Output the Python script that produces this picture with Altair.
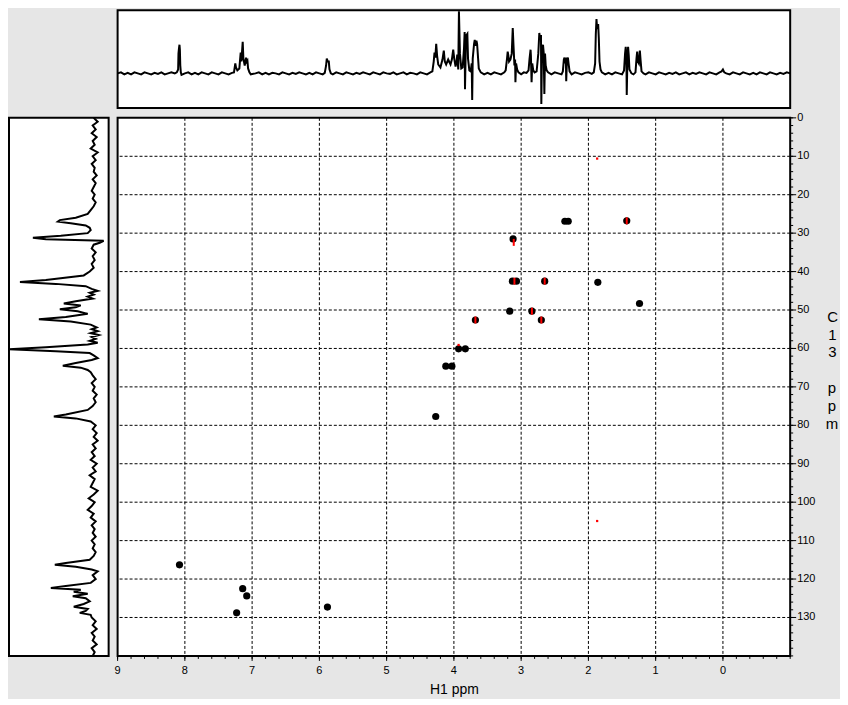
import altair as alt
import pandas as pd

FONT = "Liberation Sans Narrow, Liberation Sans, Arial"

# ---- 1D 1H projection (top): (ppm, intensity in panel px above baseline)
h1_trace = [
    (9.00, 0), (8.95, 1), (8.90, -1), (8.85, 0.5), (8.80, -1), (8.75, 1), (8.70, 0), (8.65, -1),
    (8.60, 1), (8.55, 0), (8.50, -1), (8.45, 0.5), (8.40, -0.5), (8.35, 1), (8.30, -1), (8.25, 0),
    (8.20, 1), (8.15, 0), (8.12, 1), (8.10, 4), (8.095, 20), (8.088, 25), (8.08, 29), (8.074, 24),
    (8.068, 8), (8.06, 1), (8.05, -1.5), (8.00, 0), (7.95, 1), (7.90, -1), (7.85, 0.5), (7.80, -1),
    (7.75, 1), (7.70, 0), (7.65, -1), (7.60, 1), (7.55, 0), (7.50, -1), (7.45, 1), (7.40, 0),
    (7.35, -1), (7.30, 0.5), (7.27, 1), (7.25, 10), (7.24, 6), (7.22, 3), (7.19, 5), (7.17, 21),
    (7.16, 12), (7.14, 32), (7.13, 15), (7.11, 8), (7.09, 16), (7.08, 12), (7.07, 13), (7.06, 5),
    (7.04, 1), (7.02, -1), (6.95, 0), (6.90, 1), (6.85, -1), (6.80, 0.5), (6.75, -1), (6.70, 0.5),
    (6.65, 0), (6.60, -1), (6.55, 1), (6.50, 0), (6.45, -1), (6.40, 0.5), (6.35, -0.5), (6.30, 1),
    (6.25, 0), (6.20, -1), (6.15, 0.5), (6.10, -1), (6.05, 1), (6.00, 0), (5.95, -1), (5.92, 0.5),
    (5.90, 8), (5.89, 15), (5.875, 12), (5.86, 12), (5.85, 4), (5.83, 0), (5.80, -1), (5.75, 1),
    (5.70, 0), (5.65, -1), (5.60, 1), (5.55, 0), (5.50, -1), (5.45, 0.5), (5.40, -0.5), (5.35, 1),
    (5.30, 0), (5.25, -1), (5.20, 1), (5.15, 0), (5.10, -1), (5.05, 1), (5.00, 0), (4.95, -0.5),
    (4.90, 1), (4.85, -1), (4.80, 0), (4.75, 1), (4.70, -1), (4.65, 0.5), (4.60, 0), (4.55, -1),
    (4.50, 1), (4.45, 0), (4.40, -1), (4.35, 1), (4.32, 2), (4.30, 12), (4.288, 21), (4.276, 16),
    (4.263, 30), (4.25, 18), (4.233, 9), (4.20, 6), (4.17, 14), (4.15, 23), (4.135, 12), (4.115, 9),
    (4.085, 14), (4.05, 9), (4.03, 14), (4.01, 24), (3.995, 15), (3.975, 7), (3.96, 12), (3.95, 19),
    (3.935, 4), (3.925, 63), (3.91, 20), (3.89, 5), (3.87, 6), (3.85, 25), (3.84, 42), (3.835, -16),
    (3.82, 38), (3.80, 40), (3.79, 15), (3.77, 3), (3.75, 2), (3.735, 10), (3.728, -27), (3.72, 15),
    (3.70, 30), (3.69, 34), (3.68, 28), (3.665, 33), (3.655, 30), (3.645, 20), (3.63, 5), (3.60, 1),
    (3.55, -1), (3.50, 0.5), (3.45, -1), (3.40, 1), (3.35, 0), (3.30, -1), (3.25, 1), (3.23, 3),
    (3.21, 15), (3.20, 22), (3.19, 18), (3.18, 12), (3.16, 14), (3.14, 20), (3.125, 46), (3.115, 30),
    (3.10, 8), (3.09, 14), (3.085, -9), (3.075, 10), (3.06, 4), (3.04, 1), (3.00, -1), (2.96, 1),
    (2.92, 0.5), (2.89, 3), (2.875, 15), (2.86, 24), (2.855, 18), (2.845, -9), (2.835, 10), (2.82, 3),
    (2.80, 1), (2.77, 2), (2.745, 20), (2.73, 41), (2.72, 35), (2.705, 39), (2.70, -31), (2.69, 25),
    (2.675, 29), (2.665, 21), (2.655, -21), (2.645, 20), (2.635, 8), (2.62, 3), (2.60, 1), (2.55, -1),
    (2.50, 1), (2.45, 0), (2.40, -1), (2.38, 2), (2.365, 14), (2.355, 16), (2.345, 10), (2.335, 16),
    (2.33, -8), (2.32, 12), (2.305, 16), (2.295, 10), (2.28, 2), (2.25, -1), (2.20, 1), (2.15, 0),
    (2.10, -1), (2.05, 0.5), (2.00, 1), (1.95, -0.5), (1.92, 1), (1.90, 10), (1.89, 40), (1.88, 55),
    (1.87, 45), (1.855, 50), (1.845, 35), (1.835, 12), (1.82, 4), (1.80, 1), (1.75, -1), (1.70, 0.5),
    (1.65, -1), (1.60, 1), (1.55, 0), (1.50, -1), (1.47, 3), (1.455, 20), (1.445, 27), (1.435, 15),
    (1.43, -22), (1.42, 15), (1.41, 27), (1.40, 18), (1.39, 4), (1.36, 0), (1.33, -1), (1.30, 1),
    (1.285, 15), (1.275, 22), (1.265, 12), (1.25, 10), (1.235, 23), (1.225, 14), (1.21, 2), (1.18, 0),
    (1.15, -1), (1.10, 1), (1.05, 0), (1.00, -1), (0.95, 1), (0.90, 0), (0.85, -1), (0.80, 0.5),
    (0.75, -0.5), (0.70, 1), (0.65, -1), (0.60, 0), (0.55, 1), (0.50, -1), (0.45, 0.5), (0.40, -0.5),
    (0.35, 1), (0.30, 0), (0.25, -1), (0.20, 1), (0.15, 0), (0.10, -1), (0.05, 1), (0.02, 2),
    (0.00, 4), (-0.02, 1), (-0.05, 0), (-0.10, -1), (-0.15, 1), (-0.20, 0), (-0.25, -1), (-0.30, 1),
    (-0.35, 0), (-0.40, -1), (-0.45, 0.5), (-0.50, -1), (-0.55, 1), (-0.60, 0), (-0.65, -1),
    (-0.70, 1), (-0.75, 0), (-0.80, -1), (-0.85, 0.5), (-0.90, -0.5), (-0.95, 1), (-1.00, 0),
]

# ---- 1D 13C projection (left): (ppm, intensity in panel px left of baseline)
c13_trace = [
    (0, 2), (1, -2), (2, 3), (3, 0), (4, 4), (5, -1), (6, 3), (7, 1), (8, 5), (9, -2), (10, 3),
    (11, 0), (12, 4), (13, 1), (14, 2), (15, -1), (16, 3), (17, 0), (18, 2), (19, 4), (20, 1),
    (21, 3), (22, 0), (23, 2), (24, 5), (25, 8), (26, 20), (26.6, 36), (27.0, 38), (27.4, 25),
    (28, 10), (28.6, 6), (29.2, 5), (30, 8), (30.7, 35), (31.2, 63), (31.6, 50), (32.0, -8),
    (32.5, -4), (33, 2), (34, 4), (35, 0), (36, 3), (37, 1), (38, 4), (39, 2), (40, 6), (41, 12),
    (42.2, 50), (42.7, 76), (43.2, 40), (43.8, 10), (44.5, 4), (45, -2), (45.5, 6), (46, 2),
    (46.5, 8), (47, 3), (47.7, 20), (48.3, 32), (48.8, 15), (49.3, 20), (49.8, 36), (50.3, 18),
    (51, 8), (51.8, 30), (52.4, 57), (53, 25), (53.8, 5), (54.5, -1), (55, 4), (55.5, -2), (56, 5),
    (56.5, -3), (57, 4), (57.5, 0), (58, 6), (58.5, -2), (59, 8), (59.7, 50), (60.2, 87),
    (60.7, 40), (61.2, 6), (61.8, 2), (62.5, -2), (63, 4), (63.8, 20), (64.5, 33), (65.0, 15),
    (65.6, 8), (66.2, 5), (67, 3), (68, 0), (69, 4), (70, 1), (71, 3), (72, -1), (73, 2), (74, 0),
    (75, 3), (76, 8), (77.2, 30), (77.7, 42), (78.2, 20), (79, 5), (80, 0), (81, 3), (82, -1),
    (83, 2), (84, -2), (85, 3), (86, 0), (87, 4), (88, 1), (89, 5), (90, -1), (91, 3), (92, 0),
    (93, 6), (94, 1), (95, 3), (96, 5), (97, -2), (98, 2), (99, 7), (100, 1), (101, 4), (102, 8),
    (103, 2), (104, 5), (105, 0), (106, 4), (107, 1), (108, 3), (109, 0), (110, 4), (111, 1),
    (112, 3), (113, 0), (114, 2), (115, 6), (115.8, 30), (116.3, 41), (116.8, 20), (117.5, 4),
    (118, -2), (119, 3), (120, 0), (121, 5), (121.8, 30), (122.3, 45), (122.8, 15), (123.3, 22),
    (123.8, 8), (124.5, 23), (125, 10), (125.8, 6), (126.5, 12), (127.2, 22), (127.8, 8),
    (128.3, 10), (128.8, 16), (129.3, 5), (130, 4), (131, 0), (132, 3), (133, -1), (134, 4),
    (135, 1), (136, 3), (137, -1), (138, 4), (139, 1), (140, 3),
]

# ---- HSQC cross peaks (H1 ppm, C13 ppm)
peak_h = [8.08, 7.14, 7.08, 7.23, 5.88, 4.27, 4.12, 4.03, 3.93, 3.83, 3.68, 3.17, 2.84, 2.70,
          3.12, 3.13, 3.07, 2.65, 1.86, 1.24, 2.35, 2.30, 1.43]
peak_c = [116.3, 122.5, 124.4, 128.8, 127.3, 77.7, 64.6, 64.6, 60.1, 60.1, 52.6, 50.3, 50.3, 52.6,
          31.5, 42.5, 42.5, 42.5, 42.8, 48.3, 26.9, 26.9, 26.8]
# red (negative-phase) centres inside peaks
red_h = [3.68, 2.84, 2.70, 2.65, 3.10, 1.43, 3.11]
red_c = [52.6, 50.3, 52.6, 42.5, 42.5, 26.8, 32.4]
# isolated tiny red specks
speck_h = [1.87, 1.87, 3.93]
speck_c = [10.6, 104.9, 59.1]

# axis ticks / grid
x_grid = [8, 7, 6, 5, 4, 3, 2, 1, 0]
y_grid = [10, 20, 30, 40, 50, 60, 70, 80, 90, 100, 110, 120, 130]
x_minor = [round(9 - 0.2 * i, 1) for i in range(51)]
y_minor = [2 * i for i in range(71)]
x_labels = [9, 8, 7, 6, 5, 4, 3, 2, 1, 0]
y_labels = [0, 10, 20, 30, 40, 50, 60, 70, 80, 90, 100, 110, 120, 130]
y_title_top = ["C", "1", "3"]
y_title_bottom = ["p", "p", "m"]

h1_df = pd.DataFrame(h1_trace, columns=["ppm", "val"])
c13_df = pd.DataFrame(c13_trace, columns=["ppm", "val"])
peaks_df = pd.DataFrame({"h": peak_h, "c": peak_c})
red_df = pd.DataFrame({"h": red_h, "c": red_c})
speck_df = pd.DataFrame({"h": speck_h, "c": speck_c})
xg_df = pd.DataFrame({"h": x_grid})
yg_df = pd.DataFrame({"c": y_grid})
xm_df = pd.DataFrame({"h": x_minor})
ym_df = pd.DataFrame({"c": y_minor})
xl_df = pd.DataFrame({"h": x_labels})
yl_df = pd.DataFrame({"c": y_labels})

X_SCALE = alt.Scale(domain=[-1, 9], reverse=True, nice=False, zero=False)
Y_SCALE = alt.Scale(domain=[0, 140], reverse=True, nice=False, zero=False)
W, H = 675, 540

x_axis = alt.Axis(
    values=x_labels, grid=False, ticks=False, domain=False, labels=False,
    title="H1 ppm", titleFontSize=14, titleFont=FONT, titleFontWeight="normal",
    titleColor="black", titlePadding=27,
)
y_axis = alt.Axis(
    orient="right", values=y_labels, grid=False, ticks=False, domain=False, labels=False,
    title=y_title_top, titleAngle=0, titleAlign="center",
    titleBaseline="top", titleX=42, titleY=192, titleFontSize=15, titleLineHeight=18,
    titleFont=FONT, titleFontWeight="normal", titleColor="black",
)

xgrid = alt.Chart(xg_df).mark_rule(color="black", strokeDash=[3, 2], strokeWidth=1).encode(
    x=alt.X("h:Q", scale=X_SCALE, axis=x_axis),
)
ygrid = alt.Chart(yg_df).mark_rule(color="black", strokeDash=[3, 2], strokeWidth=1).encode(
    y=alt.Y("c:Q", scale=Y_SCALE, axis=y_axis),
)
# second half of the stacked y title ("ppm"), below a blank line
ytitle2 = alt.Chart(pd.DataFrame({"t": [0]})).mark_text(
    text=y_title_bottom, font=FONT, fontSize=15, lineHeight=18, color="black",
    align="center", baseline="top",
).encode(x=alt.value(W + 42), y=alt.value(192 + 72))

# tick marks outside the frame
xticks_minor = alt.Chart(xm_df).mark_rule(color="black", strokeWidth=1).encode(
    x=alt.X("h:Q", scale=X_SCALE), y=alt.value(H), y2=alt.value(H + 3),
)
xticks_major = alt.Chart(xl_df).mark_rule(color="black", strokeWidth=1).encode(
    x=alt.X("h:Q", scale=X_SCALE), y=alt.value(H), y2=alt.value(H + 5),
)
yticks_minor = alt.Chart(ym_df).mark_rule(color="black", strokeWidth=1).encode(
    y=alt.Y("c:Q", scale=Y_SCALE), x=alt.value(W), x2=alt.value(W + 3),
)
yticks_major = alt.Chart(yl_df).mark_rule(color="black", strokeWidth=1).encode(
    y=alt.Y("c:Q", scale=Y_SCALE), x=alt.value(W), x2=alt.value(W + 6),
)
xlab = alt.Chart(xl_df).mark_text(font=FONT, fontSize=11, color="black", baseline="top",
                                  align="center").encode(
    x=alt.X("h:Q", scale=X_SCALE), y=alt.value(H + 9), text=alt.Text("h:Q", format="d"),
)
ylab = alt.Chart(yl_df).mark_text(font=FONT, fontSize=11, color="black", baseline="middle",
                                  align="left").encode(
    y=alt.Y("c:Q", scale=Y_SCALE), x=alt.value(W + 7), text=alt.Text("c:Q", format="d"),
)

peaks = alt.Chart(peaks_df).mark_point(filled=True, shape="circle", size=52, color="black",
                                       opacity=1).encode(
    x=alt.X("h:Q", scale=X_SCALE),
    y=alt.Y("c:Q", scale=Y_SCALE),
)
red_layer = alt.Chart(red_df).mark_tick(orient="vertical", size=7, thickness=2,
                                        color="#ff0000", opacity=1).encode(
    x=alt.X("h:Q", scale=X_SCALE),
    y=alt.Y("c:Q", scale=Y_SCALE),
)
speck_layer = alt.Chart(speck_df).mark_square(size=5, color="#ff0000", opacity=1).encode(
    x=alt.X("h:Q", scale=X_SCALE),
    y=alt.Y("c:Q", scale=Y_SCALE),
)
main = alt.layer(xgrid, ygrid, xticks_minor, xticks_major, yticks_minor, yticks_major,
                 xlab, ylab, ytitle2, peaks, red_layer, speck_layer).properties(width=W, height=H)

# top projection
TOP_Y = alt.Scale(domain=[-35, 64], nice=False, zero=False)
top_line = alt.Chart(h1_df).mark_line(color="black", strokeWidth=2, clip=True).encode(
    x=alt.X("ppm:Q", scale=X_SCALE, axis=None),
    y=alt.Y("val:Q", scale=TOP_Y, axis=None),
)
top = top_line.properties(width=W, height=98)

# left projection
LEFT_X = alt.Scale(domain=[-13, 87], reverse=True, nice=False, zero=False)
left_line = alt.Chart(c13_df).mark_line(color="black", strokeWidth=2, clip=True).encode(
    x=alt.X("val:Q", scale=LEFT_X, axis=None),
    y=alt.Y("ppm:Q", scale=Y_SCALE, axis=None),
    order=alt.Order("ppm:Q"),
)
left = left_line.properties(width=100, height=H)

# empty corner
corner = alt.Chart(pd.DataFrame({"v": [0]})).mark_text(text=" ").encode(
    x=alt.X("v:Q", axis=None), y=alt.Y("v:Q", axis=None)
).properties(width=100, height=98,
             view=alt.ViewBackground(strokeOpacity=0, fillOpacity=0))

row1 = alt.hconcat(corner, top, spacing=9, bounds="flush")
row2 = alt.hconcat(left, main, spacing=9, bounds="flush")
chart = alt.vconcat(row1, row2, spacing=2).properties(
    padding={"left": 0, "top": 0, "right": 0, "bottom": 0}
).configure(background="#e6e6e6").configure_view(
    stroke="black", strokeWidth=2, fill="white"
)

chart.save("out.html", embed_options={"renderer": "svg", "actions": False})
